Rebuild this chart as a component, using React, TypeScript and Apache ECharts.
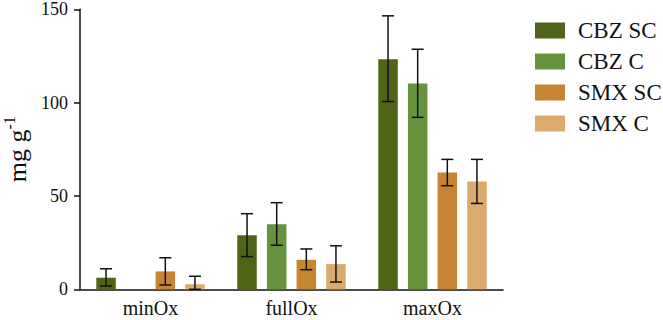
import React, { useEffect, useRef } from "react";
import * as echarts from "echarts";

const categories = ["minOx", "fullOx", "maxOx"];
const seriesNames = ["CBZ SC", "CBZ C", "SMX SC", "SMX C"];
const colors = ["#506418", "#67933f", "#c78534", "#dbaa6c"];

const cbzSC = [6.2, 28.9, 123.3];
const cbzC = [0, 34.8, 110.3];
const smxSC = [9.6, 15.8, 62.6];
const smxC = [2.7, 13.5, 57.8];

const cbzSCErr = [[1.8, 11.0], [17.5, 40.5], [100.6, 146.5]];
const cbzCErr = [null, [23.6, 46.4], [92.1, 128.6]];
const smxSCErr = [[2.3, 16.9], [10.5, 21.6], [55.5, 69.6]];
const smxCErr = [[0, 7.0], [3.9, 23.3], [46.0, 69.6]];

const yTicks = [0, 50, 100, 150];

const FONT = "Liberation Serif";
const BAR_W = 19.5;
const BAR_GAP = 0.52;

export default function App() {
  const ref = useRef<HTMLDivElement>(null);
  useEffect(() => {
    if (!ref.current) return;
    const chart = echarts.init(ref.current, undefined, { renderer: "svg" });
    const values = [cbzSC, cbzC, smxSC, smxC];
    const errs = [cbzSCErr, cbzCErr, smxSCErr, smxCErr];
    const errData: any[] = [];
    errs.forEach((arr, si) => {
      arr.forEach((e, ci) => {
        if (e) errData.push([ci, si, e[0], e[1]]);
      });
    });
    const pitch = BAR_W * (1 + BAR_GAP);
    const bars = values.map((v, i) => ({
      name: seriesNames[i],
      type: "bar",
      data: v,
      barWidth: BAR_W,
      barGap: BAR_GAP * 100 + "%",
      itemStyle: { color: colors[i] },
    }));
    chart.setOption({
      animation: false,
      textStyle: { fontFamily: FONT },
      grid: {
        left: 80,
        right: 160,
        top: 9.3,
        bottom: 30.7,
        containLabel: false,
        outerBoundsMode: "none",
      },
      legend: {
        orient: "vertical",
        left: 530,
        top: 14,
        itemWidth: 30,
        itemHeight: 16,
        itemGap: 8,
        icon: "rect",
        data: seriesNames,
        textStyle: { fontFamily: FONT, fontSize: 23, color: "#111", padding: [0, 0, 0, 8] },
      },
      xAxis: {
        type: "category",
        data: categories,
        axisLine: { lineStyle: { color: "#111", width: 1.5 } },
        axisTick: { alignWithLabel: true, length: 7, lineStyle: { color: "#111", width: 1.5 } },
        axisLabel: { fontFamily: FONT, fontSize: 20, color: "#111", margin: 9 },
      },
      yAxis: {
        type: "value",
        min: yTicks[0],
        max: yTicks[yTicks.length - 1],
        interval: 50,
        name: "mg g{sup|-1}",
        nameLocation: "middle",
        nameRotate: 90,
        nameGap: 44,
        nameTextStyle: {
          fontFamily: FONT,
          fontSize: 26,
          color: "#111",
          rich: {
            sup: { fontFamily: FONT, fontSize: 16, verticalAlign: "top", lineHeight: 32, color: "#111" },
          },
        },
        splitLine: { show: false },
        axisLine: { show: true, lineStyle: { color: "#111", width: 1.5 } },
        axisTick: { show: true, length: 6, lineStyle: { color: "#111", width: 1.5 } },
        axisLabel: { fontFamily: FONT, fontSize: 18, color: "#111", margin: 12 },
      },
      series: [
        ...bars,
        {
          type: "custom",
          name: "err",
          data: errData,
          z: 10,
          encode: { x: 0, y: [2, 3] },
          renderItem: (params: any, api: any) => {
            const ci = api.value(0);
            const si = api.value(1);
            const lo = api.coord([ci, api.value(2)]);
            const hi = api.coord([ci, api.value(3)]);
            const x = lo[0] + (si - 1.5) * pitch;
            const cap = 6;
            const style = { stroke: "#111", lineWidth: 1.5 };
            return {
              type: "group",
              children: [
                { type: "line", shape: { x1: x, y1: lo[1], x2: x, y2: hi[1] }, style },
                { type: "line", shape: { x1: x - cap, y1: lo[1], x2: x + cap, y2: lo[1] }, style },
                { type: "line", shape: { x1: x - cap, y1: hi[1], x2: x + cap, y2: hi[1] }, style },
              ],
            };
          },
        },
      ],
    });
    return () => chart.dispose();
  }, []);
  return <div ref={ref} style={{ width: 663, height: 320, position: "absolute", left: 0, top: 0 }} />;
}
